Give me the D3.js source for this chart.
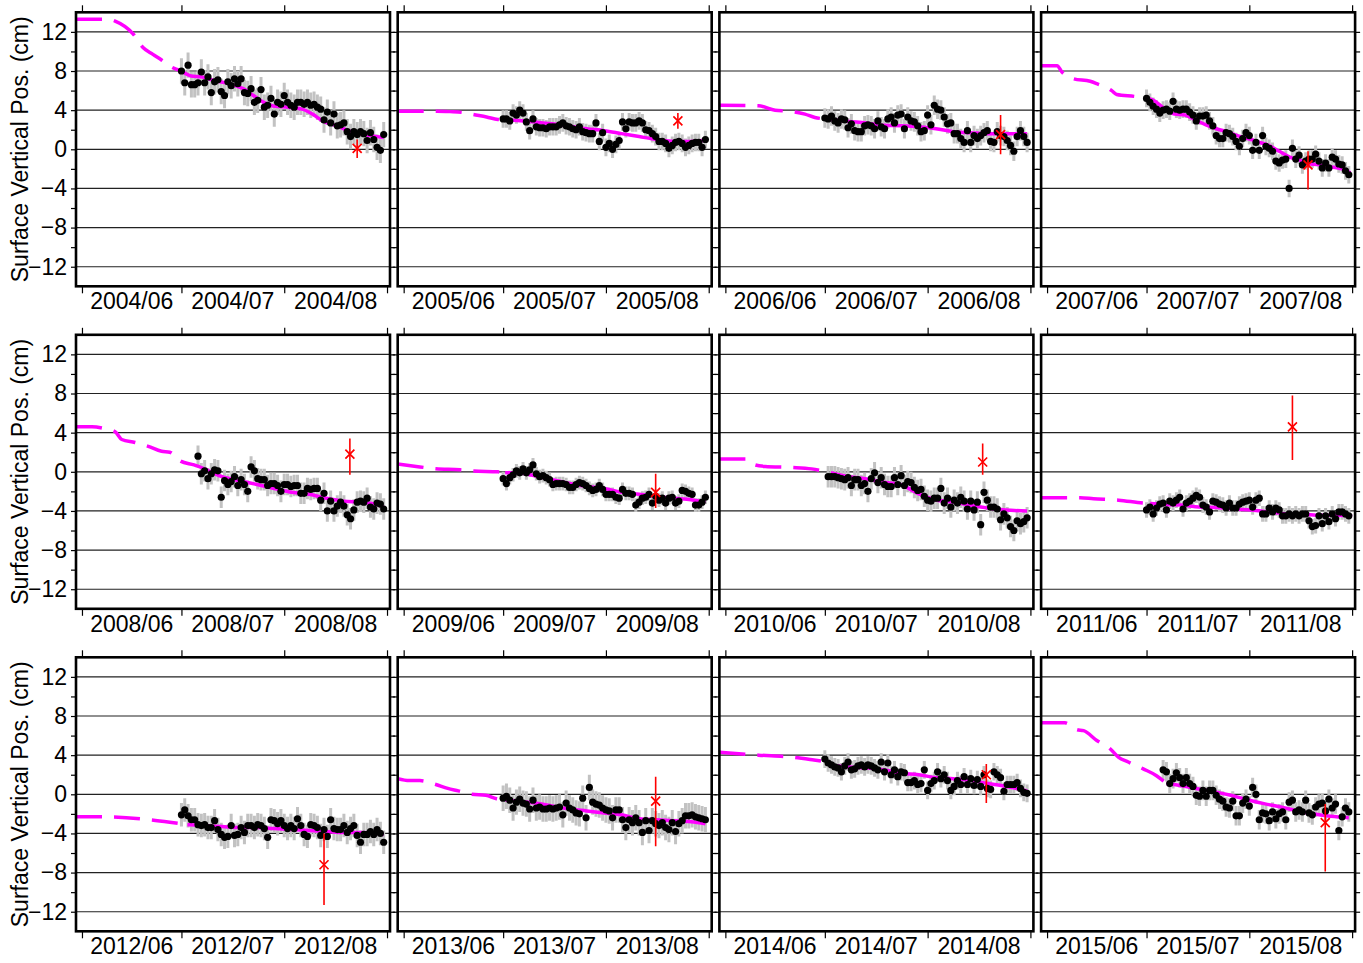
<!DOCTYPE html>
<html>
<head>
<meta charset="utf-8">
<script src="https://cdn.jsdelivr.net/npm/d3@7"></script>
<style>
  body { margin: 0; background: #fff; }
  svg { display: block; }
</style>
</head>
<body>
<div id="chart"></div>
<script>
// one panel per summer campaign
const years = [2004, 2005, 2006, 2007, 2008, 2009, 2010, 2011, 2012, 2013, 2014, 2015];

// first daily solution, in days after 1 June
const firstDay = [30, 30, 30, 30, 35, 30, 31, 30, 30, 30, 30, 35];

// daily GPS surface vertical positions (cm)
const heights = [
  [8.0,6.8,8.6,6.6,6.6,6.8,7.9,6.8,7.4,5.8,6.9,7.1,5.9,5.5,6.9,6.5,7.2,6.7,7.2,5.8,5.7,6.2,4.8,5.0,6.1,4.3,4.5,5.2,3.6,4.8,4.6,5.5,4.8,4.5,4.3,4.8,4.8,4.6,4.8,4.5,4.6,4.3,4.1,3.0,3.8,2.7,3.6,2.4,2.5,2.7,1.8,1.3,1.8,1.5,1.8,1.6,0.9,1.7,1.0,0.2,-0.1,1.5],
  [3.1,3.1,2.9,3.7,3.5,4.0,3.7,2.8,1.9,3.1,2.3,2.2,2.2,2.1,2.3,2.3,2.3,2.5,2.7,2.4,2.3,2.1,2.0,2.3,1.8,1.7,1.6,1.6,2.7,0.8,1.7,0.2,0.6,0.0,0.5,0.9,2.8,2.1,2.8,2.7,2.7,2.9,2.7,2.0,1.9,1.6,1.3,0.8,0.8,0.6,0.1,0.4,0.7,0.8,0.6,0.2,0.4,0.6,0.7,0.7,0.2,1.0],
  [3.2,3.1,3.4,2.9,2.7,3.1,3.0,2.2,2.6,1.9,1.8,1.8,2.4,2.5,2.4,2.1,2.9,2.3,2.1,3.1,3.3,2.7,3.5,3.6,2.1,3.3,2.9,2.8,2.4,1.8,1.9,3.5,2.5,4.5,4.1,4.0,3.3,2.6,2.7,1.6,1.6,1.1,0.7,1.9,0.7,1.4,1.1,1.4,1.7,1.9,0.8,0.7,1.8,1.4,1.3,0.9,0.4,-0.2,1.3,1.9,1.3,0.7],
  [5.2,4.8,4.4,4.1,3.7,4.0,4.1,3.9,4.9,4.1,4.0,4.1,4.1,3.8,3.5,2.9,3.4,3.4,3.5,2.9,2.4,1.4,1.1,1.1,1.7,1.6,1.3,0.8,0.3,1.1,1.7,1.4,-0.1,0.7,-0.1,1.4,0.3,0.1,-0.2,-1.2,-1.4,-1.1,-1.0,-4.0,0.1,-1.0,-0.6,-1.6,-1.2,-1.0,-1.0,-0.5,-1.2,-1.9,-1.4,-1.9,-0.8,-1.0,-1.5,-1.6,-2.2,-2.6],
  [1.6,-0.2,0.1,-0.7,-0.2,0.2,0.1,-2.6,-0.9,-1.3,-1.0,-0.5,-1.4,-0.8,-1.3,-2.0,0.5,0.1,-0.7,-0.8,-0.8,-1.4,-1.2,-1.2,-1.4,-2.0,-1.3,-1.3,-1.5,-1.4,-1.4,-2.2,-2.2,-1.7,-1.8,-1.7,-1.7,-2.9,-2.2,-4.0,-3.0,-4.0,-3.5,-3.1,-3.5,-4.4,-4.8,-3.9,-3.1,-3.0,-3.1,-2.7,-3.6,-3.8,-3.2,-3.3,-3.8],
  [-0.7,-1.2,-0.6,-0.3,0.1,-0.1,0.3,-0.1,0.2,0.7,-0.2,-0.5,-0.4,-0.6,-0.8,-1.3,-1.2,-1.2,-1.2,-1.3,-1.6,-1.6,-1.3,-1.1,-1.2,-1.4,-1.7,-1.9,-1.8,-1.4,-1.8,-2.3,-2.3,-2.3,-2.6,-2.7,-1.8,-2.2,-2.2,-2.3,-3.4,-3.1,-2.7,-2.6,-2.3,-3.2,-2.5,-2.9,-2.7,-3.2,-2.7,-2.6,-3.2,-3.0,-1.9,-2.0,-2.2,-2.3,-3.4,-3.4,-3.1,-2.6],
  [-0.5,-0.5,-0.5,-0.6,-0.7,-0.8,-0.6,-1.4,-0.8,-0.8,-1.4,-1.2,-2.0,-0.7,-0.1,-1.1,-0.6,-1.3,-1.5,-1.5,-0.6,-1.3,-0.4,-1.4,-1.0,-1.1,-1.6,-1.9,-1.8,-2.5,-2.9,-3.0,-2.7,-2.7,-1.7,-3.2,-2.7,-3.6,-2.9,-3.2,-2.6,-3.0,-3.8,-3.0,-3.9,-3.1,-5.4,-2.1,-2.9,-3.6,-3.6,-3.8,-4.9,-4.3,-4.7,-5.6,-6.0,-5.0,-5.3,-5.1,-4.7],
  [-3.9,-3.6,-4.3,-3.7,-3.3,-3.2,-3.9,-3.0,-3.2,-2.9,-2.6,-3.8,-3.2,-3.0,-2.7,-2.4,-2.6,-3.4,-3.6,-4.1,-3.0,-3.1,-3.3,-3.4,-3.7,-3.2,-3.7,-3.7,-3.3,-3.1,-3.0,-2.9,-3.6,-2.9,-2.7,-4.3,-4.3,-3.7,-4.1,-3.7,-3.9,-4.5,-4.5,-4.3,-4.5,-4.3,-4.5,-4.3,-4.3,-5.0,-5.6,-5.5,-4.5,-5.3,-4.5,-5.1,-4.3,-4.8,-4.1,-4.1,-4.3,-4.5],
  [-2.1,-1.6,-2.2,-2.6,-2.6,-3.1,-3.2,-3.1,-3.4,-3.4,-2.7,-3.6,-4.1,-4.4,-4.3,-3.2,-4.2,-4.1,-3.4,-3.9,-3.2,-3.2,-3.4,-3.1,-3.2,-3.5,-4.4,-2.6,-2.7,-3.0,-2.7,-3.2,-3.5,-3.2,-3.5,-2.5,-3.2,-4.1,-4.3,-3.1,-3.2,-3.4,-4.2,-3.6,-4.3,-2.6,-3.5,-3.6,-3.6,-3.2,-3.9,-3.5,-3.2,-4.2,-4.9,-4.1,-4.1,-3.8,-4.1,-3.6,-4.0,-4.9],
  [-0.4,-0.2,-0.6,-1.4,-0.8,-0.5,-0.9,-1.0,-1.5,-0.6,-1.4,-1.3,-1.5,-1.5,-1.4,-1.5,-1.4,-1.3,-2.1,-0.9,-1.4,-1.6,-1.9,-2.0,-0.4,-2.4,0.7,-0.8,-1.0,-1.1,-1.4,-1.6,-1.7,-2.4,-1.6,-1.6,-2.6,-3.4,-2.6,-2.9,-2.4,-2.9,-3.9,-2.7,-3.7,-2.7,-3.0,-3.2,-2.9,-3.4,-3.6,-2.9,-3.8,-3.0,-2.7,-2.2,-2.2,-2.1,-2.3,-2.4,-2.5,-2.6],
  [3.6,3.2,3.0,2.8,2.7,2.3,2.9,3.3,2.5,2.6,2.9,3.0,2.8,3.0,2.9,2.7,2.5,3.3,2.3,3.2,2.0,2.5,1.8,2.3,2.2,1.2,1.2,1.4,1.0,1.1,2.5,0.4,1.1,1.4,2.3,1.6,2.0,1.4,0.4,0.8,1.4,1.0,1.8,1.0,1.6,0.9,1.5,0.8,2.0,0.6,0.5,2.3,2.0,1.7,0.3,1.0,1.0,1.0,1.2,0.6,0.2,0.1],
  [2.5,2.3,1.1,1.6,2.2,1.7,1.1,1.7,1.1,0.8,-0.1,-0.2,0.4,-0.2,0.4,0.4,-0.1,-0.5,-0.7,-1.3,-1.4,-0.7,-2.2,-2.2,-0.9,-0.5,-1.2,0.7,0.0,-2.6,-1.9,-2.0,-2.7,-1.8,-2.5,-2.0,-1.8,-2.6,-0.8,-0.6,-1.8,-1.6,-1.8,-0.6,-1.9,-2.1,-1.3,-1.0,-0.9,-1.7,-0.5,-1.4,-1.0,-3.7,-2.3,-1.4,-1.8]
];

// typical one-sigma of the daily solutions (cm)
const sigma = [1.3, 0.9, 1.0, 0.9, 1.1, 0.7, 1.1, 0.8, 1.2, 1.3, 0.9, 1.0];

// model curve knots: days after 1 June, and heights (cm)
const modelDays = [
  [-1.8,8,10,15.4,18.4,21.4,24.1,27,30,32.9,36,40.2,44.4,48.6,51.7,54.8,58,62.2,66.4,69.5,72.6,76.9,81.1,85.2,91],
  [-1.8,10,14,18,21,25,28.4,30.6,34.3,39.5,44.7,50,55.2,60.5,65.7,71,76.2,81.4,86.7,91],
  [-1.8,10,15,19,24,27,30.6,37.2,42.5,47.7,53,58.3,63.5,68.8,74,79.3,84.6,91],
  [-1.8,3,4.5,8,13,15,19.5,21,26.5,30.5,32.1,35.3,38.4,41.6,44.7,47.9,51.1,54.2,57.4,60.5,63.7,66.8,70,73.2,76.3,79.5,82.6,85.8,89,91.5],
  [-1.8,3,7,10,12,16,20,24,26.5,29.7,33.8,37,42.3,47.5,52.8,58,63.3,68.5,73.7,79,84.2,88.4,91],
  [-1.8,4.9,9.7,17,21,28.4,30.6,34.3,39.5,44.8,50,55.3,60.5,65.8,71,76.2,81.5,86.7,91],
  [-1.8,6.5,9,12,20,26,30.6,37,42.2,47.5,52.8,58,63.3,68.6,73.8,79.1,84.4,91],
  [-1.8,5.7,10,14,21.6,29,31.1,35.3,40.5,45.8,51.1,56.3,61.6,66.8,72.1,77.4,82.6,87.9,92],
  [-1.8,5.4,17.5,26.5,31.8,37,42.3,47.5,52.8,58,63.3,68.5,73.7,79,84.2,89.4,91],
  [-1.8,1.7,4.9,9.7,13.3,16.5,20.6,24.8,28,30.6,34.3,39.5,44.8,50,55.2,60.5,65.7,71,76.2,81.5,86.7,91],
  [-1.8,10,20,26.7,30.7,32,37.2,42.5,47.8,53,58.3,63.5,68.8,74.1,79.3,84.6,89.8,91],
  [-1.8,5.4,9,11,15,19,21.5,24.5,29,33,36,40,45,50,55.4,60.4,65.4,70.5,75.5,80.6,85.6,91]
];
const modelVals = [
  [13.3,13.3,13.1,11.8,10.4,9.7,9.1,8.4,8.0,7.5,7.4,7.0,6.7,6.2,5.5,4.8,4.4,4.3,4.1,3.6,2.9,2.4,1.8,1.5,1.2],
  [3.9,3.9,3.85,3.75,3.55,3.3,3.05,3.0,2.95,2.8,2.6,2.35,2.1,1.9,1.6,1.3,1.0,0.8,0.8,0.95],
  [4.5,4.45,4.0,3.9,3.6,3.25,3.1,2.85,2.7,2.45,2.4,2.3,2.1,1.8,1.7,1.6,1.6,1.6],
  [8.55,8.55,7.9,7.2,6.95,6.7,6.0,5.6,5.4,5.2,5.0,4.2,3.6,3.5,3.0,2.5,2.1,1.8,1.4,1.1,0.75,0.4,-0.2,-0.8,-1.1,-1.5,-1.6,-1.8,-2.0,-2.4],
  [4.6,4.6,4.4,4.1,3.3,3.0,2.6,2.1,2.0,1.1,0.7,0.3,-0.5,-0.9,-1.3,-1.7,-2.1,-2.3,-2.7,-3.0,-3.1,-3.3,-3.6],
  [0.8,0.5,0.3,0.2,0.07,0.0,-0.1,-0.1,-0.4,-0.8,-1.2,-1.5,-1.7,-2.1,-2.3,-2.5,-2.7,-2.85,-3.1],
  [1.3,1.3,0.7,0.55,0.45,0.3,0.0,-0.5,-0.7,-1.05,-1.3,-2.2,-2.85,-3.1,-3.4,-3.7,-3.9,-4.0],
  [-2.65,-2.65,-2.65,-2.75,-2.9,-3.2,-3.25,-3.35,-3.4,-3.6,-3.65,-3.8,-3.9,-4.1,-4.3,-4.35,-4.45,-4.45,-4.55],
  [-2.3,-2.3,-2.5,-2.85,-3.1,-3.2,-3.3,-3.4,-3.4,-3.5,-3.6,-3.7,-3.8,-3.9,-3.9,-4.0,-4.1],
  [1.6,1.4,1.4,1.0,0.6,0.35,0.0,-0.1,-0.45,-0.55,-0.7,-0.9,-1.2,-1.5,-1.7,-1.9,-2.1,-2.5,-2.6,-2.7,-2.8,-3.0],
  [4.3,4.0,3.8,3.5,3.3,3.0,2.8,2.7,2.5,2.15,2.0,1.7,1.6,1.4,1.1,0.8,0.45,0.35],
  [7.3,7.3,6.6,6.5,5.5,4.65,3.8,3.3,2.6,1.9,1.1,0.9,0.6,0.3,-0.1,-0.55,-0.95,-1.3,-1.7,-2.0,-2.25,-2.4]
];

// red campaign point: day after 1 June, value and bar ends (cm)
const campDay = [83, 82.7, 83, 78.7, 80.8, 76, 77.6, 74, 73, 76, 78.7, 83.9];
const campVal = [0.1, 2.9, 1.5, -1.6, 1.8, -2.1, 1.0, 4.6, -7.2, -0.7, 2.0, -2.9];
const campLo = [-0.9, 2.1, -0.5, -4.1, -0.3, -3.7, -0.3, 1.2, -11.3, -5.3, -0.9, -7.9];
const campHi = [1.0, 3.7, 3.5, -0.2, 3.4, -0.2, 2.9, 7.8, -4.0, 1.8, 3.1, -1.0];

const gridValues = [-12, -8, -4, 0, 4, 8, 12];

// layout
var width = 1363, height = 963;
var panelW = 314, panelH = 274;
var left0 = 76, top0 = 12.3, colStep = 321.7, rowStep = 322.5;
var DAY = 864e5;
var font = "'Liberation Sans', Arial, Helvetica, sans-serif";
var fontSize = 23;

var svg = d3.select("#chart")
  .append("svg")
    .attr("width", width)
    .attr("height", height)
    .style("font-family", font);

var y = d3.scaleLinear().domain([-14, 14]).range([panelH, 0]);
var fmtMonth = d3.utcFormat("%Y/%m");

years.forEach(function(year, k) {
  var r = Math.floor(k / 4), c = k % 4;
  var px = left0 + c * colStep, py = top0 + r * rowStep;
  var june1 = Date.UTC(year, 5, 1);
  var toDate = d => new Date(june1 + d * DAY);

  var x = d3.scaleUtc()
    .domain([toDate(-1.8), toDate(92.9)])
    .range([0, panelW]);

  var g = svg.append("g").attr("transform", "translate(" + px + "," + py + ")");

  g.append("clipPath").attr("id", "clip" + k)
    .append("rect").attr("width", panelW).attr("height", panelH);

  var plot = g.append("g").attr("clip-path", "url(#clip" + k + ")");

  // horizontal grid
  plot.selectAll(".grid")
    .data(gridValues)
    .enter().append("line")
      .attr("x1", 0).attr("x2", panelW)
      .attr("y1", d => y(d)).attr("y2", d => y(d))
      .attr("stroke", "#222")
      .attr("stroke-width", 1.2);

  var pts = heights[k].map((v, i) => ({ date: toDate(firstDay[k] + i), v: v }));

  // error bars
  plot.selectAll(".err")
    .data(pts)
    .enter().append("line")
      .attr("x1", d => x(d.date)).attr("x2", d => x(d.date))
      .attr("y1", d => y(d.v - sigma[k])).attr("y2", d => y(d.v + sigma[k]))
      .attr("stroke", "#c2c2c2")
      .attr("stroke-width", 3);

  // model: dashed before the data start, solid over the data
  var knots = modelDays[k].map((d, i) => ({ date: toDate(d), day: d, v: modelVals[k][i] }));
  var cut = knots.findIndex(d => d.day >= firstDay[k]);
  var line = d3.line().x(d => x(d.date)).y(d => y(d.v)).curve(d3.curveMonotoneX);

  plot.append("path")
    .datum(knots.slice(0, cut + 1))
    .attr("d", line)
    .attr("fill", "none")
    .attr("stroke", "#ff00ff")
    .attr("stroke-width", 3.5)
    .attr("stroke-dasharray", "26,12");

  plot.append("path")
    .datum(knots.slice(cut))
    .attr("d", line)
    .attr("fill", "none")
    .attr("stroke", "#ff00ff")
    .attr("stroke-width", 3.5);

  // daily positions
  plot.selectAll(".dot")
    .data(pts)
    .enter().append("circle")
      .attr("cx", d => x(d.date))
      .attr("cy", d => y(d.v))
      .attr("r", 3.6)
      .attr("fill", "black");

  // campaign point
  var cx = x(toDate(campDay[k])), cy = y(campVal[k]);
  plot.append("line")
    .attr("x1", cx).attr("x2", cx)
    .attr("y1", y(campLo[k])).attr("y2", y(campHi[k]))
    .attr("stroke", "red").attr("stroke-width", 1.6);
  plot.append("path")
    .attr("d", `M${cx - 4.5},${cy - 4.5}L${cx + 4.5},${cy + 4.5}M${cx - 4.5},${cy + 4.5}L${cx + 4.5},${cy - 4.5}`)
    .attr("stroke", "red").attr("stroke-width", 1.7);

  // axes
  var months = d3.utcMonth.range(toDate(0), toDate(93));
  var styleAxis = a => {
    a.select(".domain").remove();
    a.selectAll(".tick line").attr("stroke", "black").attr("stroke-width", 1.2);
    a.attr("font-family", font).attr("font-size", fontSize);
    a.selectAll("text").attr("fill", "black");
  };

  g.append("g")
    .call(d3.axisTop(x).tickValues(months).tickSize(7).tickFormat(""))
    .call(styleAxis);
  g.append("g")
    .attr("transform", "translate(0," + panelH + ")")
    .call(d3.axisBottom(x).tickValues(months).tickSize(7).tickFormat(""))
    .call(styleAxis);

  var yTicks = d3.range(-12, 13, 2);
  g.append("g")
    .call(d3.axisLeft(y).tickValues(yTicks).tickSize(5).tickPadding(4)
      .tickFormat(d => (c === 0 && d % 4 === 0) ? d3.format("d")(d) : ""))
    .call(styleAxis);
  g.append("g")
    .attr("transform", "translate(" + panelW + ",0)")
    .call(d3.axisRight(y).tickValues(yTicks).tickSize(5).tickFormat(""))
    .call(styleAxis);

  // month labels centred in each month
  g.selectAll(".mlabel")
    .data(months.slice(0, 3))
    .enter().append("text")
      .attr("x", (d, i) => (x(d) + x(months[i + 1])) / 2)
      .attr("y", panelH + 23)
      .attr("text-anchor", "middle")
      .attr("font-size", fontSize)
      .attr("fill", "black")
      .text(d => fmtMonth(d));

  // frame
  g.append("rect")
    .attr("width", panelW).attr("height", panelH)
    .attr("fill", "none")
    .attr("stroke", "black")
    .attr("stroke-width", 2.6);

  if (c === 0) {
    svg.append("text")
      .attr("transform", "translate(28," + (py + panelH / 2) + ") rotate(-90)")
      .attr("text-anchor", "middle")
      .attr("font-size", fontSize)
      .attr("fill", "black")
      .text("Surface Vertical Pos. (cm)");
  }
});
</script>
</body>
</html>
